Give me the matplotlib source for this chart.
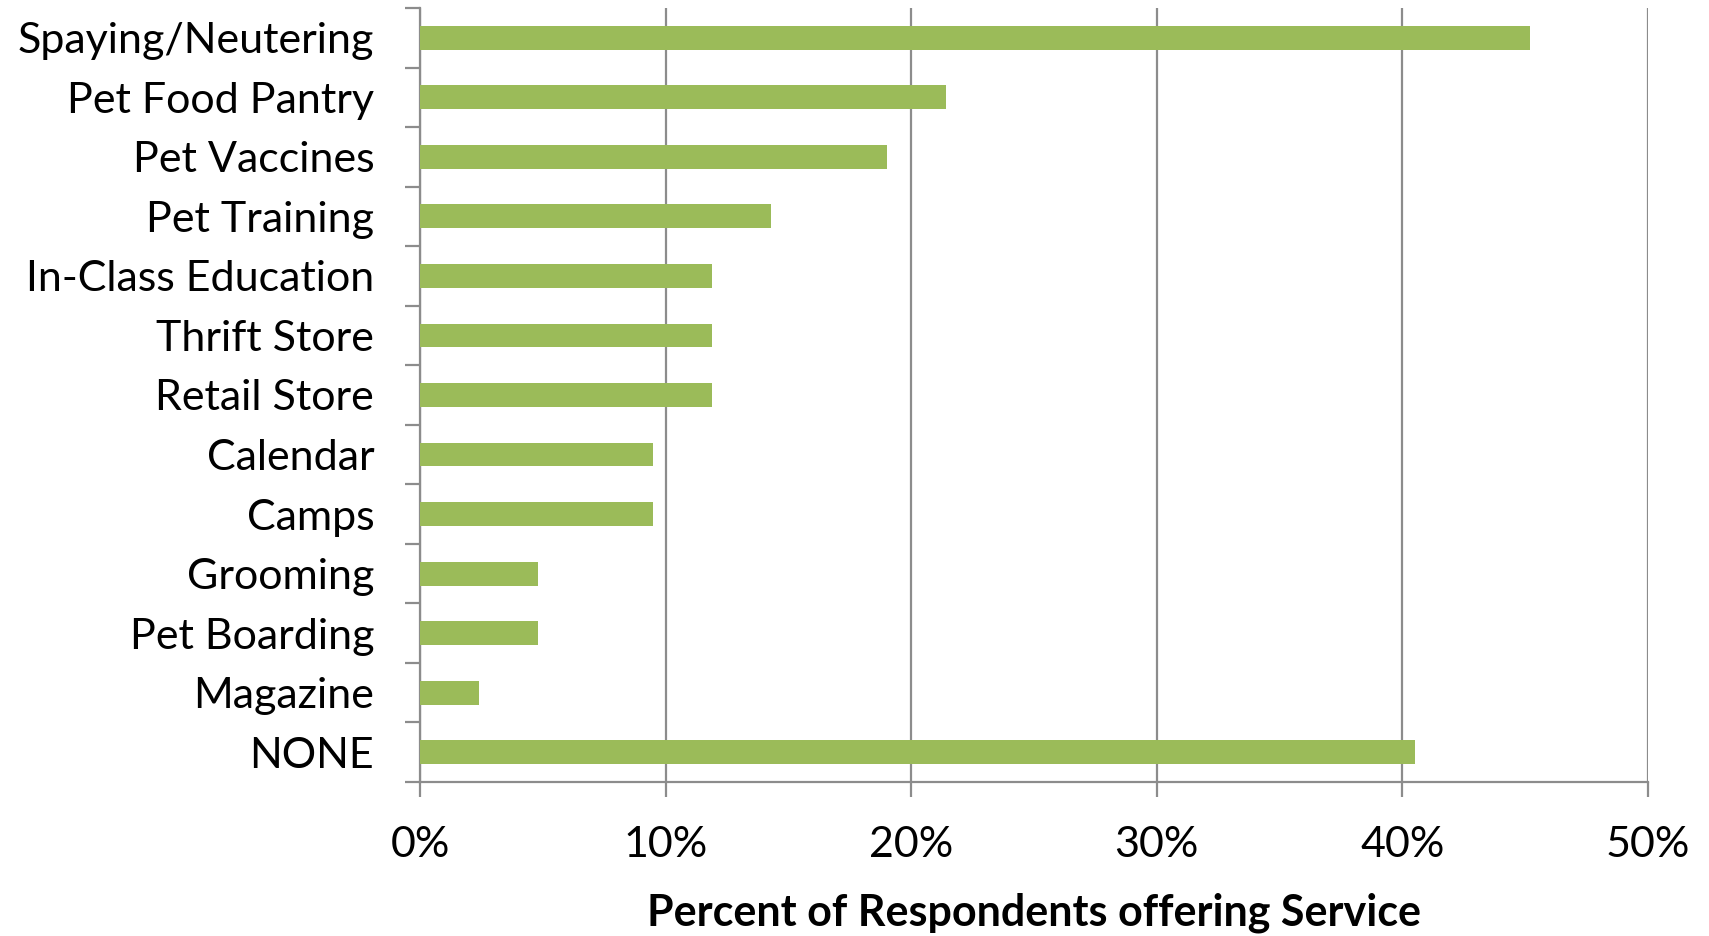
import numpy as np
import matplotlib
matplotlib.use('Agg')
import matplotlib.pyplot as plt
from matplotlib.ticker import FuncFormatter, FixedLocator

# Data (percent of respondents)
services = ['Spaying/Neutering', 'Pet Food Pantry', 'Pet Vaccines', 'Pet Training',
            'In-Class Education', 'Thrift Store', 'Retail Store', 'Calendar', 'Camps',
            'Grooming', 'Pet Boarding', 'Magazine', 'NONE']
percent = [45.2, 21.4, 19.0, 14.3, 11.9, 11.9, 11.9, 9.5, 9.5, 4.8, 4.8, 2.4, 40.5]
xticks = [0, 10, 20, 30, 40, 50]

plt.rcParams['font.family'] = ['Lato', 'DejaVu Sans']
grey = '#8c8c8c'
fs = 31

fig = plt.figure(figsize=(17.09, 9.36), dpi=100)
ax = fig.add_axes([420/1709, 1 - 782/936, (1648-420)/1709, (782-8)/936])

n = len(services)
ypos = np.arange(n)
ax.barh(ypos, percent, height=0.40, color='#9bbb59', zorder=3)

ax.set_xlim(0, 50)
ax.set_ylim(n - 0.5, -0.5)

ax.set_xticks(xticks)
ax.xaxis.set_major_formatter(FuncFormatter(lambda v, p: '%d%%' % v))
ax.grid(axis='x', color=grey, linewidth=1.6, zorder=0)

# category labels between boundary ticks, Excel style
ax.set_yticks(ypos)
ax.set_yticklabels(services)
ax.yaxis.set_minor_locator(FixedLocator(np.arange(n + 1) - 0.5))
ax.tick_params(axis='y', which='major', length=0, pad=33, labelsize=fs)
ax.tick_params(axis='y', which='minor', length=11, width=1.6, color=grey)
ax.tick_params(axis='x', length=11, width=1.6, color=grey, labelsize=fs, pad=21)

for s in ['top', 'right']:
    ax.spines[s].set_visible(False)
for s in ['left', 'bottom']:
    ax.spines[s].set_color(grey)
    ax.spines[s].set_linewidth(1.6)

ax.set_xlabel('Percent of Respondents offering Service', fontsize=fs,
              fontweight='bold', labelpad=20)

fig.savefig('out.png', dpi=100)
